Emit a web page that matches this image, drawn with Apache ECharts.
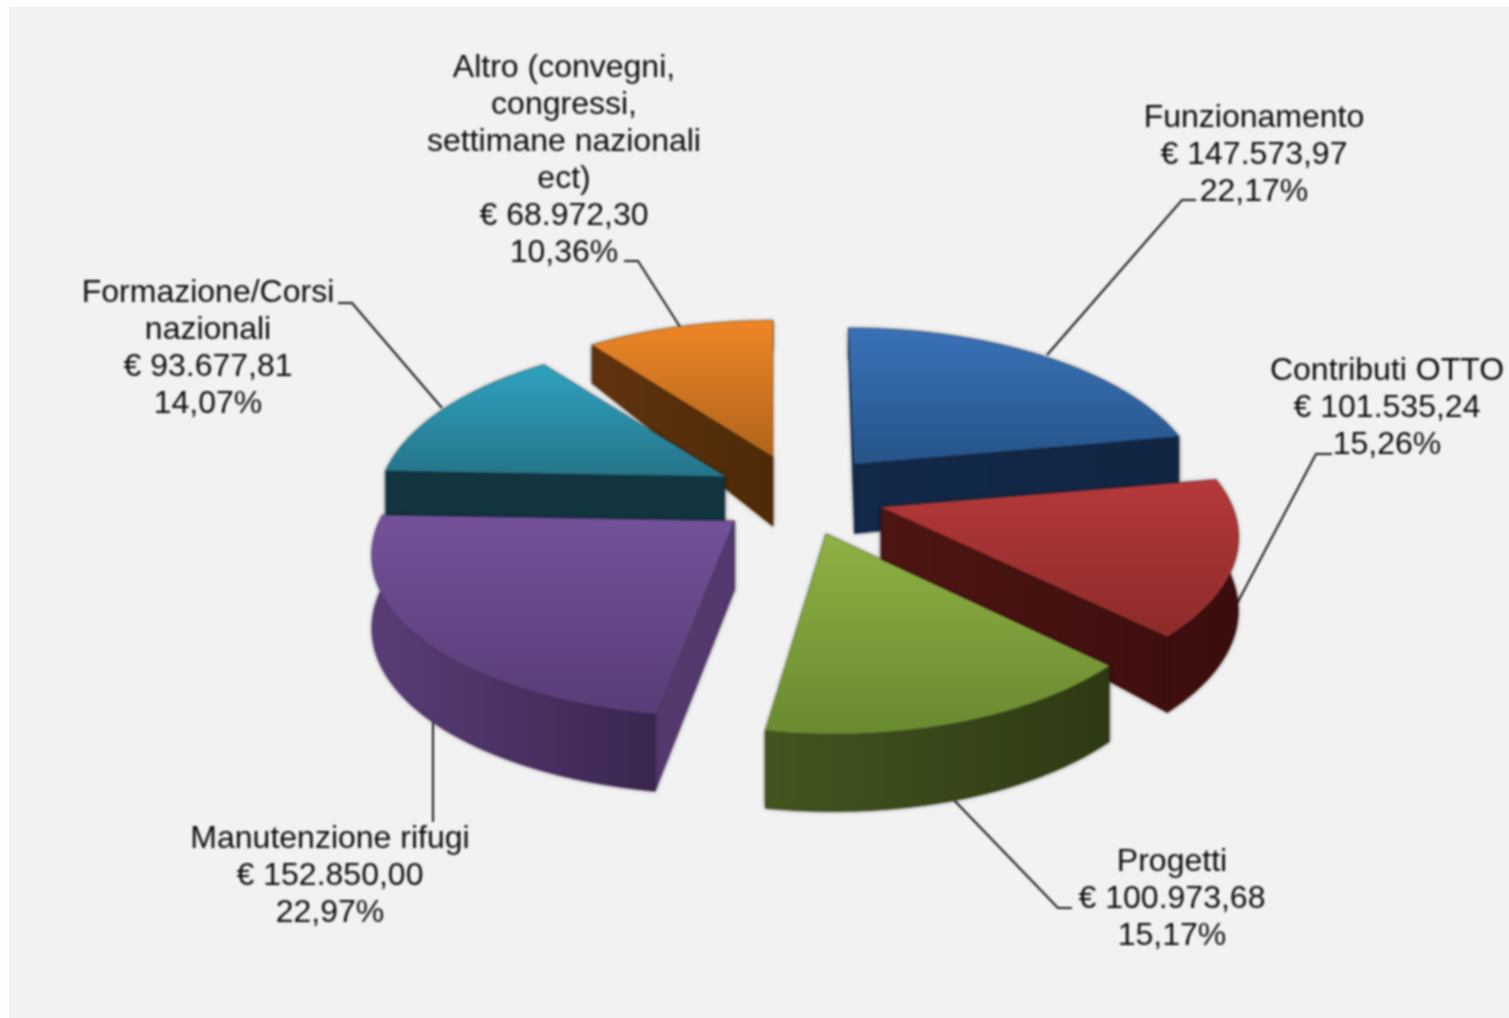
<!DOCTYPE html>
<html>
<head>
<meta charset="utf-8">
<title>Ripartizione spese</title>
<script src="https://cdn.jsdelivr.net/npm/echarts@6/dist/echarts.min.js"></script>
<style>
  html, body { margin: 0; padding: 0; background: #fdfdfd; overflow: hidden; }
  #bg { position: absolute; left: 9px; top: 7px; width: 1500px; height: 1011px; background: #f2f2f2; }
  #main { position: absolute; left: 0; top: 0; width: 1509px; height: 1018px; filter: blur(0.8px); }
</style>
</head>
<body>
<div id="bg"></div>
<div id="main"></div>
<script>
// clockwise from 12 o'clock
var names = ['Funzionamento', 'Contributi OTTO', 'Progetti', 'Manutenzione rifugi', 'Formazione/Corsi\nnazionali', 'Altro (convegni,\ncongressi,\nsettimane nazionali\nect)'];
var amounts = [147573.97, 101535.24, 100973.68, 152850.00, 93677.81, 68972.30];
var percents = [22.17, 15.26, 15.17, 22.97, 14.07, 10.36];

// back slices are painted first
var drawOrder = [5, 4, 0, 3, 1, 2];

var topColors = [['#3a72b8', '#26548a'], ['#b5393a', '#8e2a2a'], ['#8fb144', '#698a30'], ['#745299', '#583c78'], ['#2fa2c0', '#257488'], ['#ef8627', '#b0641a']];
var rimColors = [['#13294a', '#122643'], ['#3f0f0e', '#3a0e0c'], ['#445520', '#2e3a14'], ['#5a3d78', '#3b2650'], ['#123540', '#123540'], ['#61340f', '#4e2a07']];
var startWallColors = [['#13294a', '#13294a'], ['#13294a', '#13294a'], ['#2e3a14', '#2e3a14'], ['#54396e', '#54396e'], ['#123540', '#123540'], ['#61340f', '#4e2a07']];
var endWallColors = [['#13294a', '#122643'], ['#4e1613', '#3f0f0e'], ['#2e3a14', '#2e3a14'], ['#3b2650', '#3b2650'], ['#123540', '#123540'], ['#4e2a07', '#4e2a07']];
var apexDepth = [70, 52, 70, 70, 70, 70];

// per slice tweaks of the projection, the original has uneven perspective
var widthScale = [1, 1.03, 1, 1.04, 1, 1];
var heightScale = [1, 1, 1.02, 1, 1, 1];
var skew = [6, 0, 7, -9, 0, 0];

// label layout: centre x, first line y, leader points
var labelX = [1254, 1387, 1172, 330, 208, 564];
var labelY = [118, 371, 862, 839, 293, 68];
var leaders = [
  [[1196, 200], [1182, 200], [1047, 355]],
  [[1332, 454], [1316, 454], [1222, 632]],
  [[1072, 908], [1058, 908], [950, 796]],
  [[433, 822], [433, 710]],
  [[338, 303], [352, 303], [442, 408]],
  [[624, 261], [638, 261], [682, 330]]
];

var CX = 800, CY = 495;      // pie centre
var EX = 85, EY = 41;        // explode offset
var RX = 341, RY = 160;      // radius before perspective
var PERSP = 0.182;
var LINE_H = 37;

var total = amounts.reduce(function (a, b) { return a + b; }, 0);
var angles = [];
var acc = 0;
amounts.forEach(function (v) {
  var a0 = acc / total * Math.PI * 2;
  acc += v;
  angles.push([a0, acc / total * Math.PI * 2]);
});

function euro(v) {
  var parts = v.toFixed(2).split('.');
  return '€ ' + parts[0].replace(/\B(?=(\d{3})+$)/g, '.') + ',' + parts[1];
}

function rimPoint(i, apex, a) {
  var u = Math.sin(a), v = -Math.cos(a);
  var w = 1 - PERSP * v;
  return [
    apex[0] + RX * widthScale[i] * u / w + skew[i] * v,
    apex[1] + RY * heightScale[i] * v / w,
    v
  ];
}

// side walls are shallower towards the back
function rimDepth(v) {
  return v >= 0 ? 72 + 6 * v : 72 + 42 * v;
}

function grad(c, vertical) {
  return {
    type: 'linear', x: 0, y: 0, x2: vertical ? 0 : 1, y2: vertical ? 1 : 0,
    colorStops: [{ offset: 0, color: c[0] }, { offset: 1, color: c[1] }]
  };
}

function wall(points, colors, order) {
  return {
    order: order,
    el: {
      type: 'polygon',
      shape: { points: points },
      style: { fill: grad(colors), stroke: colors[1], lineWidth: 0.5, shadowBlur: 4, shadowColor: 'rgba(0,0,0,0.35)' }
    }
  };
}

function renderSlice(params, api) {
  var i = api.value(0);
  var a0 = angles[i][0], a1 = angles[i][1];
  var mid = (a0 + a1) / 2;
  var apex = [CX + EX * Math.sin(mid), CY - EY * Math.cos(mid)];
  var depth = apexDepth[i];
  var apexLow = [apex[0], apex[1] + depth];

  var arc = [], arcLow = [];
  var steps = 48;
  for (var s = 0; s <= steps; s++) {
    var p = rimPoint(i, apex, a0 + (a1 - a0) * s / steps);
    arc.push([p[0], p[1]]);
    arcLow.push([p[0], p[1] + rimDepth(p[2])]);
  }
  var first = arc[0], last = arc[steps];
  var meanV0 = -Math.cos(a0) / 2, meanV1 = -Math.cos(a1) / 2;
  var meanRim = -Math.cos(mid);

  var walls = [
    wall([apex, first, arcLow[0], apexLow], startWallColors[i], meanV0),
    wall([apex, last, arcLow[steps], apexLow], endWallColors[i], meanV1),
    wall(arc.concat(arcLow.slice().reverse()), rimColors[i], meanRim)
  ];
  walls.sort(function (a, b) { return a.order - b.order; });

  var children = walls.map(function (w) { return w.el; });
  children.push({
    type: 'polygon',
    shape: { points: [apex].concat(arc) },
    style: { fill: grad(topColors[i], true), stroke: topColors[i][1], lineWidth: 0.6 }
  });
  return { type: 'group', children: children };
}

function renderLabel(params, api) {
  var i = api.value(0);
  var text = [names[i], euro(amounts[i]), percents[i].toFixed(2).replace('.', ',') + '%'].join('\n');
  return {
    type: 'group',
    children: [
      {
        type: 'polyline',
        shape: { points: leaders[i] },
        style: { fill: 'none', stroke: '#1a1a1a', lineWidth: 2 }
      },
      {
        type: 'text',
        x: labelX[i],
        y: labelY[i] - LINE_H / 2,
        style: {
          text: text,
          fill: '#0c0c0c',
          font: '32px "Liberation Sans", Arial, sans-serif',
          lineHeight: LINE_H,
          align: 'center',
          verticalAlign: 'top'
        }
      }
    ]
  };
}

var chart = echarts.init(document.getElementById('main'));
chart.setOption({
  animation: false,
  series: [
    {
      type: 'custom',
      coordinateSystem: 'none',
      z: 1,
      silent: true,
      renderItem: renderLabel,
      data: names.map(function (n, i) { return [i]; })
    },
    {
      type: 'custom',
      coordinateSystem: 'none',
      z: 2,
      silent: true,
      renderItem: renderSlice,
      data: drawOrder.map(function (i) { return [i]; })
    }
  ]
});
</script>
</body>
</html>
